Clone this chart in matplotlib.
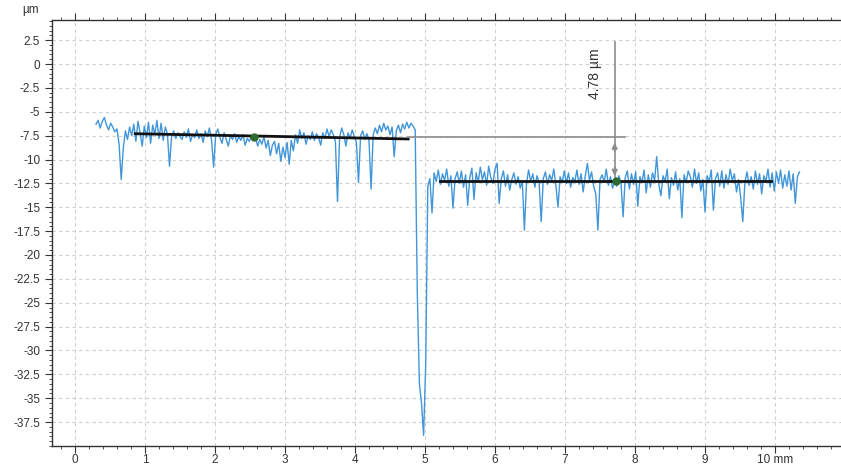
import numpy as np
import matplotlib.pyplot as plt
from matplotlib.ticker import MultipleLocator, FixedLocator

plt.rcParams['font.family'] = ['Liberation Sans', 'DejaVu Sans']

# profile sampled every 0.03 mm starting at 0.30 mm (heights in um)
x_start = 0.30
x_step = 0.03
heights = [
    -6.3, -5.9, -6.7, -6.0, -5.6, -6.4, -6.9, -6.2, -6.6, -7.1,
    -6.8, -8.4, -12.1, -8.8, -7.0, -7.9, -6.6, -7.5, -6.3, -8.1,
    -6.0, -7.2, -8.6, -6.5, -7.7, -6.1, -8.3, -6.4, -7.4, -5.9,
    -7.8, -6.2, -8.0, -6.6, -7.3, -10.7, -7.6, -7.0, -7.8, -7.2,
    -7.6, -7.9, -7.1, -7.7, -6.8, -8.1, -7.4, -7.7, -6.9, -7.8,
    -7.3, -8.2, -7.0, -7.6, -6.7, -7.9, -10.8, -7.4, -6.8, -7.7,
    -8.3, -7.2, -7.9, -8.6, -7.5, -7.9, -7.3, -8.2, -7.6, -8.0,
    -7.4, -8.5, -7.8, -8.1, -7.5, -8.0, -7.7, -8.6, -7.9, -8.4,
    -7.6, -8.8, -8.0, -9.6, -8.5, -8.1, -9.4, -8.3, -10.2, -8.7,
    -9.8, -8.2, -10.5, -8.0, -9.1, -7.4, -8.3, -6.9, -7.8, -7.2,
    -8.4, -7.5, -7.9, -7.1, -8.0, -7.3, -7.7, -8.5, -7.2, -7.8,
    -6.8, -7.6, -6.9, -7.4, -8.1, -14.4, -7.7, -6.7, -7.4, -8.6,
    -7.2, -7.8, -6.9, -7.6, -8.2, -12.4, -7.5, -7.0, -7.9, -7.3,
    -8.0, -13.1, -7.4, -6.7, -7.3, -6.4, -7.1, -6.2, -6.9, -6.5,
    -7.4, -6.6, -9.7, -7.0, -6.4, -7.2, -6.3, -6.8, -6.1, -6.7,
    -6.2, -6.5, -6.9, -24.0, -33.5, -35.5, -38.9, -31.5, -12.8, -12.0,
    -15.6, -11.4, -12.3, -11.1, -12.6, -11.5, -12.2, -11.0, -12.8, -11.7,
    -15.1, -12.0, -11.3, -12.5, -11.2, -12.9, -11.6, -14.8, -11.9, -10.9,
    -14.2, -11.4, -12.4, -10.8, -12.1, -11.3, -12.7, -10.7, -11.9, -12.5,
    -11.0, -10.4, -14.6, -12.0, -11.2, -12.8, -11.6, -13.2, -12.1, -11.4,
    -12.6, -11.8, -13.0, -12.2, -17.4, -12.5, -11.1, -12.3, -11.5, -12.9,
    -11.7, -12.4, -16.5, -12.0, -11.3, -12.6, -11.6, -12.2, -11.0, -12.7,
    -15.0, -11.8, -12.4, -11.2, -12.5, -11.4, -12.9, -11.9, -12.3, -11.1,
    -12.6, -11.5, -13.4, -11.7, -10.4, -12.2, -11.3, -12.8, -13.6, -17.4,
    -12.1, -11.6, -12.4, -11.0, -12.7, -11.8, -13.0, -12.3, -12.8, -11.7,
    -12.5, -16.0, -11.9, -11.2, -13.1, -11.5, -12.6, -11.3, -14.9, -11.8,
    -12.4, -11.1, -13.5, -11.6, -12.9, -11.4, -12.2, -9.7, -12.6, -13.8,
    -11.7, -12.3, -11.0, -14.1, -11.9, -12.7, -11.3, -13.2, -12.0, -16.1,
    -11.6, -12.4, -11.2, -11.8, -12.9, -11.0, -12.5, -11.4, -13.3, -12.1,
    -15.5, -11.7, -12.3, -11.1, -15.3, -12.0, -11.4, -12.8, -11.2, -13.0,
    -11.6, -12.6, -11.0, -12.2, -11.5, -13.4, -12.1, -14.0, -16.5, -12.4,
    -11.3, -12.7, -11.8, -13.1, -11.2, -12.6, -11.5, -13.6, -11.7, -12.3,
    -11.0, -12.9, -11.4, -13.3, -11.3, -12.5, -11.1, -13.0, -11.6, -12.8,
    -11.2, -13.2, -11.5, -14.6, -11.8, -11.3,
]

# fitted reference lines (x in mm, y in um)
fit_left_x = [0.86, 4.76]
fit_left_y = [-7.3, -7.85]
fit_right_x = [5.21, 9.94]
fit_right_y = [-12.3, -12.3]
marker_x = [2.55, 7.73]
marker_y = [-7.6, -12.3]

# step measurement
step_label = "4.78 µm"
step_x = 7.71
step_top = -7.65
step_bottom = -12.3

x_ticks = list(range(0, 11))
x_labels = [str(v) for v in x_ticks[:-1]] + ["10 mm"]
y_ticks = [2.5, 0, -2.5, -5, -7.5, -10, -12.5, -15, -17.5, -20, -22.5, -25,
           -27.5, -30, -32.5, -35, -37.5]

xs = x_start + x_step * np.arange(len(heights))

fig = plt.figure(figsize=(8.41, 4.67), dpi=100)
ax = fig.add_axes([0.0618, 0.045, 0.9382, 0.912])

ax.plot(xs, heights, color='#4196da', lw=1.0, zorder=3)
ax.plot(fit_left_x, fit_left_y, color='#111111', lw=2.0, zorder=4)
ax.plot(fit_right_x, fit_right_y, color='#111111', lw=2.0, zorder=4)
ax.plot(marker_x, marker_y, 'o', color='#2e6b2e', ms=5, zorder=5)

# measurement lines
gray = '#8c8c8c'
ax.plot([fit_left_x[1], 7.86], [step_top, step_top], color=gray, lw=1.2, zorder=4)
ax.plot([step_x, step_x], [2.3, step_bottom], color=gray, lw=1.2, zorder=4)
ax.annotate('', xy=(step_x, step_top - 0.3), xytext=(step_x, -9.4),
            arrowprops=dict(arrowstyle='-|>', color=gray, lw=1.2,
                            mutation_scale=8), zorder=5)
ax.annotate('', xy=(step_x, step_bottom + 0.3), xytext=(step_x, -10.5),
            arrowprops=dict(arrowstyle='-|>', color=gray, lw=1.2,
                            mutation_scale=8), zorder=5)
ax.text(step_x - 0.28, -1.0, step_label, rotation=90, ha='center',
        va='center', fontsize=10, color='#333333')

ax.set_xlim(-0.329, 10.943)
ax.set_ylim(-40.0, 4.6)

ax.xaxis.set_major_locator(FixedLocator(x_ticks))
ax.set_xticklabels(x_labels)
ax.xaxis.set_minor_locator(MultipleLocator(0.2))
ax.yaxis.set_major_locator(FixedLocator(y_ticks))
ax.set_yticklabels([f"{v:g}" for v in y_ticks])
ax.yaxis.set_minor_locator(MultipleLocator(0.5))

ax.grid(True, which='major', color='#cfcfcf', linestyle=(0, (3, 3)), lw=0.8)
ax.set_axisbelow(True)

ax.spines['right'].set_visible(False)
for s in ['left', 'bottom', 'top']:
    ax.spines[s].set_color('#333333')
    ax.spines[s].set_linewidth(1.0)

ax.tick_params(axis='x', which='both', top=True, direction='out',
               colors='#333333', labelsize=8.5, pad=1)
ax.tick_params(axis='y', which='both', direction='out', colors='#333333',
               labelsize=8.5)
ax.tick_params(which='major', length=5)
ax.tick_params(which='minor', length=2.5)

fig.text(0.036, 0.979, "µm", fontsize=8.5, color='#333333', ha='center',
         va='center')

fig.savefig('out.png', dpi=100)
